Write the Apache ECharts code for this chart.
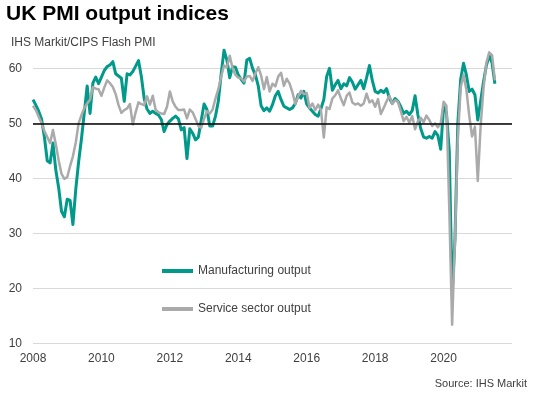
<!DOCTYPE html>
<html>
<head>
<meta charset="utf-8">
<style>
html,body{margin:0;padding:0;background:#fff;}
#chart{width:533px;height:396px;}
</style>
<script src="https://cdn.jsdelivr.net/npm/echarts@6/dist/echarts.min.js"></script>
</head>
<body>
<div id="chart"></div>
<script>
// Month categories Jan 2008 .. Jan 2022
var startYear = 2008, endYear = 2022;
var months = [];
for (var y = startYear; y <= endYear; y++) {
  for (var m = 1; m <= 12; m++) {
    if (y === endYear && m > 1) break;
    months.push(y + '-' + (m < 10 ? '0' + m : m));
  }
}
var yearLabels = ['2008', '2010', '2012', '2014', '2016', '2018', '2020'];

// Manufacturing output index (Jan 2008 .. Jul 2021)
var manufacturing = [
  54.3, 53.3, 52.2, 50.8, 47.5, 43.2, 42.8, 46.4, 41.5, 38.3, 34.0, 33.0,
  36.2, 36.0, 31.6, 38.0, 43.0, 47.2, 52.0, 56.8, 51.8, 57.3, 58.4, 57.2,
  58.4, 59.6, 60.3, 60.6, 61.2, 59.0, 58.6, 58.2, 54.0, 59.0, 58.8, 59.4,
  60.4, 61.4, 58.5, 54.5, 52.6, 51.8, 52.2, 51.8, 51.5, 50.7, 48.5, 49.8,
  50.4, 50.9, 51.3, 50.8, 48.8, 49.2, 43.6, 49.0, 48.2, 47.0, 47.5, 50.5,
  53.5, 52.5, 49.5, 49.5, 51.3, 54.0, 59.0, 63.3, 61.5, 58.3, 60.3, 60.2,
  58.8, 58.0, 57.3, 61.5, 61.8, 60.0, 58.8, 56.8, 53.2, 52.3, 52.8, 52.2,
  53.4, 55.0, 55.8, 54.3, 53.1, 52.8, 52.5, 52.8, 53.6, 55.2, 54.6, 55.8,
  53.5, 52.8, 52.2, 51.6, 51.3, 52.7, 54.3, 58.5, 60.0, 56.0, 57.0, 57.8,
  56.3, 57.2, 56.8, 58.3, 57.5, 56.2, 57.0, 57.8, 56.3, 58.3, 60.5, 57.8,
  55.8, 55.5, 56.0, 55.6, 56.3, 54.6, 53.6, 54.5, 54.0, 53.0, 51.8, 52.2,
  51.6, 52.3, 55.0, 51.5, 49.0, 47.5, 47.3, 47.6, 47.3, 48.5, 47.8, 45.3,
  53.0, 52.0, 45.0, 19.0, 29.0, 50.0, 58.0, 60.9, 58.8, 55.8, 56.2, 55.2,
  50.6, 54.0, 57.5, 60.5, 62.3, 61.0, 57.2
];

// Services business activity index (Jan 2008 .. Jul 2021)
var services = [
  53.2, 52.4, 51.2, 50.0, 48.6, 47.5, 46.4, 48.8, 46.2, 43.3, 40.8, 39.9,
  40.2, 42.2, 44.0, 46.5, 50.0, 51.5, 52.8, 53.6, 54.3, 56.6, 56.3, 56.2,
  55.0, 56.5, 57.8, 57.3, 56.6, 55.3, 53.3, 51.9, 52.4, 52.7, 53.5, 49.8,
  52.0, 53.8, 53.5, 53.3, 54.9, 53.4, 55.0, 52.5, 52.0, 51.8, 51.7, 53.0,
  55.8, 54.0, 53.0, 52.4, 52.4, 52.5, 50.9, 52.5, 52.0, 50.8, 49.5, 49.2,
  50.8, 52.2, 51.8, 52.5, 54.5, 56.2, 58.5, 60.5, 60.2, 62.3, 60.0, 58.8,
  58.3, 58.2, 57.6, 58.5, 58.6, 57.7, 59.1, 60.2, 58.7, 56.2, 58.4, 55.8,
  57.2, 56.7, 58.5, 59.2, 56.8, 58.1, 57.2, 55.6, 53.5, 54.9, 55.9, 55.3,
  55.5, 52.8, 53.6, 52.4, 53.4, 52.4, 47.4, 52.9, 52.6, 54.5, 55.1, 56.0,
  54.5, 53.3, 55.0, 55.6, 53.8, 53.4, 53.6, 53.2, 53.6, 55.4, 53.8, 54.2,
  53.0, 54.4, 51.7, 52.8, 54.0, 55.0, 53.5, 54.2, 53.9, 52.2, 50.4, 51.2,
  50.1, 51.3, 48.9, 50.4, 51.0, 50.2, 51.4, 50.6, 49.5, 50.0, 49.3, 50.0,
  53.9, 53.2, 34.5, 13.4, 29.0, 47.1, 56.5, 58.8, 56.1, 51.4, 47.6, 49.4,
  39.5, 49.5, 56.3, 61.0, 62.9, 62.4, 57.8
];

var FONT = "'Liberation Sans', Arial, sans-serif";
var chart = echarts.init(document.getElementById('chart'), null, {renderer: 'canvas', width: 533, height: 396});

chart.setOption({
  animation: false,
  backgroundColor: '#ffffff',
  title: [
    {text: 'UK PMI output indices', left: 6, top: 4, padding: 0,
     textStyle: {fontFamily: FONT, fontSize: 21, fontWeight: 'bold', color: '#000'}},
    {text: 'IHS Markit/CIPS Flash PMI', left: 11, top: 37, padding: 0,
     textStyle: {fontFamily: FONT, fontSize: 12, fontWeight: 'normal', color: '#404040'}},
    {text: 'Source: IHS Markit', right: 6, top: 378, padding: 0,
     textStyle: {fontFamily: FONT, fontSize: 11, fontWeight: 'normal', color: '#404040'}}
  ],
  legend: {
    orient: 'vertical',
    left: 162, top: 265,
    itemWidth: 31, itemHeight: 4,
    itemGap: 26,
    icon: 'rect',
    selectedMode: false,
    padding: 0,
    textStyle: {fontFamily: FONT, fontSize: 12, color: '#404040'},
    data: ['Manufacturing output', 'Service sector output']
  },
  grid: {left: 33, right: 21, top: 68.3, bottom: 52.7, containLabel: false},
  xAxis: {
    type: 'category',
    data: months,
    boundaryGap: false,
    axisLine: {show: false},
    axisTick: {show: false},
    splitLine: {show: false},
    axisLabel: {
      interval: function (idx, val) {
        return yearLabels.indexOf(val.slice(0, 4)) >= 0 && val.slice(5) === '01';
      },
      formatter: function (val) { return val.slice(0, 4); },
      margin: 9,
      fontFamily: FONT, fontSize: 12, color: '#404040'
    }
  },
  yAxis: {
    type: 'value',
    min: 10, max: 60, interval: 10,
    axisLine: {show: false},
    axisTick: {show: false},
    axisLabel: {margin: 11, fontFamily: FONT, fontSize: 12, color: '#404040'},
    splitLine: {show: true, lineStyle: {color: '#d9d9d9', width: 1}}
  },
  series: [
    {
      name: 'ref50', type: 'line', data: [], z: 1, silent: true,
      markLine: {
        silent: true, symbol: ['none', 'none'], label: {show: false},
        lineStyle: {color: '#000', width: 1.5, type: 'solid'},
        data: [{yAxis: 50}]
      }
    },
    {
      name: 'Manufacturing output', type: 'line', data: manufacturing,
      symbol: 'none', clip: false, z: 3,
      lineStyle: {color: '#00998a', width: 3, join: 'round'},
      itemStyle: {color: '#00998a'}
    },
    {
      name: 'Service sector output', type: 'line', data: services,
      symbol: 'none', clip: false, z: 4,
      lineStyle: {color: '#aaaaaa', width: 2.5, join: 'round'},
      itemStyle: {color: '#aaaaaa'}
    }
  ]
});
</script>
</body>
</html>
